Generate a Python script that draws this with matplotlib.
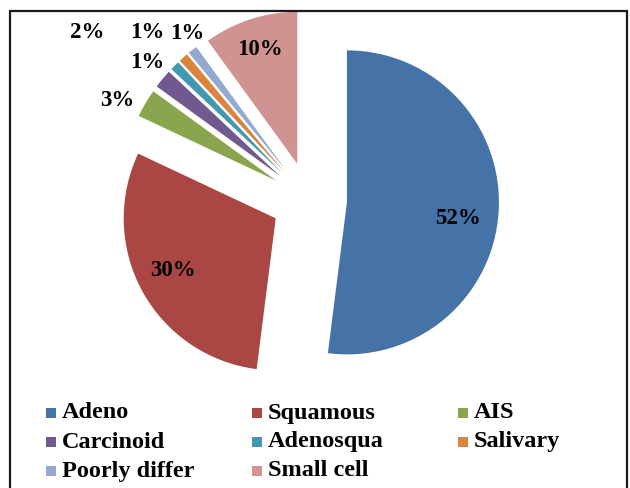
import numpy as np
import matplotlib
matplotlib.use('Agg')
import matplotlib.pyplot as plt
from matplotlib.patches import Rectangle

categories = ['Adeno', 'Squamous', 'AIS', 'Carcinoid', 'Adenosqua',
              'Salivary', 'Poorly differ', 'Small cell']
values = [52, 30, 3, 2, 1, 1, 1, 10]
colors = ['#4572A7', '#AA4643', '#89A54E', '#71588F', '#4198AF',
          '#DB843D', '#93A9CF', '#D19392']

# label placement: (distance in radii from pie centre, clock angle in degrees)
label_pos = [(0.99, 97), (1.01, 242.6), (1.42, 297.6), (1.83, 307),
             (1.40, 310.4), (1.53, 315.9), (1.36, 323.8), (1.04, 342)]

W, H = 630, 488
fig = plt.figure(figsize=(W / 100, H / 100), dpi=100)
ax = fig.add_axes([0, 0, 1, 1])

R = 152
cx, cy = 309, H - 200
ax.pie(values, colors=colors, startangle=90, counterclock=False,
       radius=R, center=(cx, cy), explode=[0.25 * R] * len(values),
       wedgeprops=dict(linewidth=0))
ax.set_xlim(0, W)
ax.set_ylim(0, H)
ax.set_aspect('auto')
ax.axis('off')

font = dict(family='Liberation Serif', weight='bold')
total = sum(values)
for v, (d, a) in zip(values, label_pos):
    t = np.radians(a)
    x = cx + d * R * np.sin(t)
    y = cy + d * R * np.cos(t)
    ax.text(x, y, f'{round(100 * v / total)}%', ha='center', va='center',
            fontsize=16.5, **font)

# legend, three columns
col_x = [46, 252, 458]
row_y = [H - 413, H - 442, H - 471]
for i, (name, c) in enumerate(zip(categories, colors)):
    x = col_x[i % 3]
    y = row_y[i // 3]
    ax.add_patch(Rectangle((x, y - 5), 10, 10, color=c, lw=0))
    ax.text(x + 16, y, name, ha='left', va='center', fontsize=17.5, **font)

# chart border
ax.add_patch(Rectangle((10, -10), 617, H - 11 + 10, fill=False,
                       edgecolor='#1a1a1a', lw=1.6, clip_on=False))

fig.savefig('out.png', dpi=100)
